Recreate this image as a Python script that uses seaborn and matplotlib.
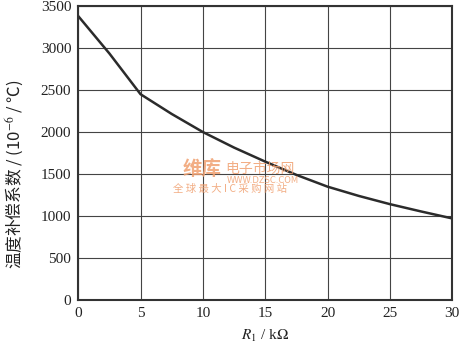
import numpy as np
import pandas as pd
import matplotlib
matplotlib.use("Agg")
import matplotlib.pyplot as plt
import seaborn as sns

# Curve
r1_kohm = [0, 2.5, 5, 7.5, 10, 12.5, 15, 17.5, 20, 22.5, 25, 27.5, 30]
temp_coef = [3380, 2935, 2450, 2215, 2000, 1815, 1648, 1490, 1350, 1240, 1142, 1055, 972]

x_ticks = [0, 5, 10, 15, 20, 25, 30]
y_ticks = [0, 500, 1000, 1500, 2000, 2500, 3000, 3500]

df = pd.DataFrame({"R1": r1_kohm, "coef": temp_coef})

sns.set_style("white")
plt.rcParams['font.family'] = ['Liberation Serif', 'Noto Sans CJK SC', 'DejaVu Sans']
plt.rcParams['mathtext.fontset'] = 'stix'

fig = plt.figure(figsize=(4.6, 3.51), dpi=100)
ax = fig.add_axes([0.170, 0.145, 0.813, 0.838])

sns.lineplot(data=df, x="R1", y="coef", ax=ax, color="#2b2b2b", linewidth=1.8)

ax.set_xlim(0, 30)
ax.set_ylim(0, 3500)
ax.set_xticks(x_ticks)
ax.set_yticks(y_ticks)
ax.tick_params(axis="both", length=0, labelsize=11, colors="#222222", pad=5)
ax.grid(True, color="#444444", linewidth=0.8)
for s in ax.spines.values():
    s.set_color("#333333")
    s.set_linewidth(1.5)

ax.set_xlabel(r"$R_1$ / k$\Omega$", fontsize=11, color="#222222", labelpad=6)
ax.set_ylabel("温度补偿系数 / (10$^{-6}$ / ℃)", fontsize=12, color="#222222",
              family=['Noto Sans CJK SC', 'DejaVu Sans'])
ax.yaxis.set_label_coords(-0.14, 0.43)

# faint watermark as in the source image
wm = "#f0a070"
ax.text(11.5, 1550, "维库", fontsize=14, fontweight="bold", color=wm,
        alpha=0.85, family=['Noto Sans CJK SC'], ha="right", va="center")
ax.text(11.8, 1560, "电子市场网", fontsize=10, color=wm, alpha=0.85,
        family=['Noto Sans CJK SC'], ha="left", va="center")
ax.text(11.9, 1420, "WWW.DZSC.COM", fontsize=6, color=wm, alpha=0.85,
        family=['DejaVu Sans'], ha="left", va="center")
ax.text(12.2, 1320, "全 球 最 大 I C 采 购 网 站", fontsize=7.5, color=wm, alpha=0.85,
        family=['Noto Sans CJK SC'], ha="center", va="center")

plt.savefig("out.png", dpi=100)
